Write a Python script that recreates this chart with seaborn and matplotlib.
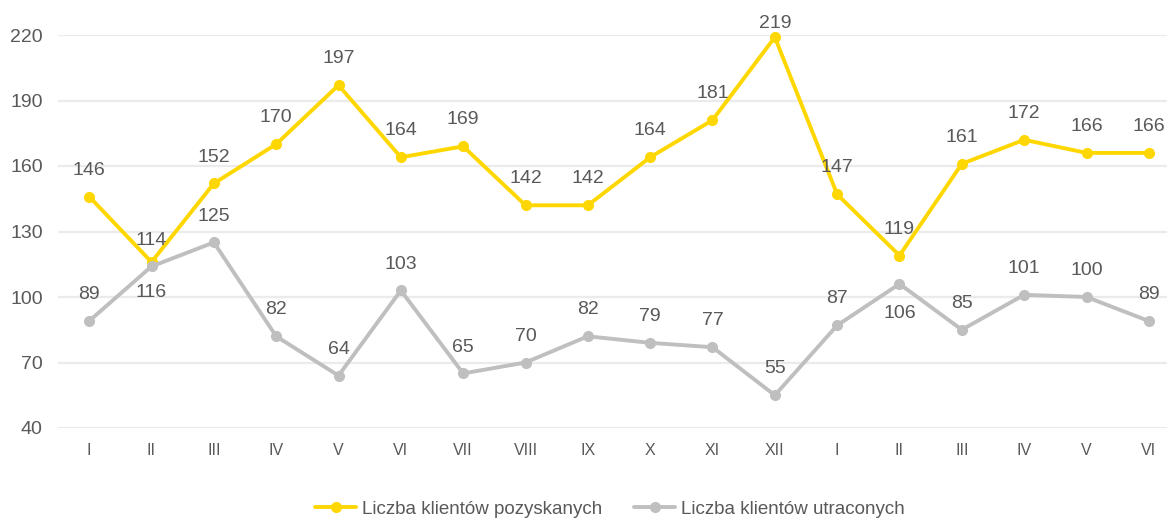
import matplotlib
matplotlib.use("Agg")
import matplotlib.pyplot as plt
import seaborn as sns
import pandas as pd

months = ["I", "II", "III", "IV", "V", "VI", "VII", "VIII", "IX", "X", "XI", "XII",
          "I", "II", "III", "IV", "V", "VI"]
pozyskani = [146, 116, 152, 170, 197, 164, 169, 142, 142, 164, 181, 219,
             147, 119, 161, 172, 166, 166]
utraceni = [89, 114, 125, 82, 64, 103, 65, 70, 82, 79, 77, 55,
            87, 106, 85, 101, 100, 89]
series_names = ["Liczba klientów pozyskanych", "Liczba klientów utraconych"]
y_ticks = [40, 70, 100, 130, 160, 190, 220]

# vertical label offsets in points (positive = above the point)
off_pozyskani = [19] * 18
off_pozyskani[1] = -22
off_pozyskani[11] = 10
off_utraceni = [19] * 18
off_utraceni[13] = -21

YELLOW = "#FFD700"
GREY = "#BFBFBF"
TEXT = "#595959"

sns.set_theme(style="white")
plt.rcParams["font.family"] = ["Liberation Sans", "DejaVu Sans"]

n = len(months)
df = pd.DataFrame({
    "idx": list(range(n)) * 2,
    "value": pozyskani + utraceni,
    "series": [series_names[0]] * n + [series_names[1]] * n,
})

fig = plt.figure(figsize=(11.67, 5.19), dpi=100)
ax = fig.add_axes([58 / 1167, 91 / 519, 1122 / 1167, 393 / 519])

sns.lineplot(data=df, x="idx", y="value", hue="series",
             palette=[YELLOW, GREY], marker="o", markersize=8,
             markeredgewidth=0, linewidth=2.8, ax=ax, clip_on=False,
             legend=True)

for vals, offs in ((pozyskani, off_pozyskani), (utraceni, off_utraceni)):
    for i, (v, o) in enumerate(zip(vals, offs)):
        ax.annotate(str(v), (i, v), xytext=(0, o),
                    textcoords="offset points", ha="center", va="center",
                    fontsize=14, color=TEXT)

ax.set_xlim(-0.5, n - 0.5)
ax.set_ylim(40, 220)
ax.set_yticks(y_ticks)
ax.set_xticks(range(n))
ax.set_xticklabels(months)
ax.tick_params(axis="y", length=0, labelsize=14, labelcolor=TEXT, pad=11)
ax.tick_params(axis="x", length=0, labelsize=11.5, labelcolor=TEXT, pad=11)
ax.set_xlabel("")
ax.set_ylabel("")
ax.grid(axis="y", color="#EBEBEB", linewidth=1.6)
ax.set_axisbelow(True)
for s in ax.spines.values():
    s.set_visible(False)

handles, labels = ax.get_legend_handles_labels()
ax.get_legend().remove()
fig.legend(handles, labels, loc="center", bbox_to_anchor=(610 / 1167, 1 - 509 / 519),
           ncol=2, frameon=False, fontsize=13.5, labelcolor=TEXT,
           handlelength=2.2, columnspacing=1.7, handletextpad=0.3,
           borderaxespad=0, borderpad=0)

fig.savefig("out.png", dpi=100, facecolor="white")
